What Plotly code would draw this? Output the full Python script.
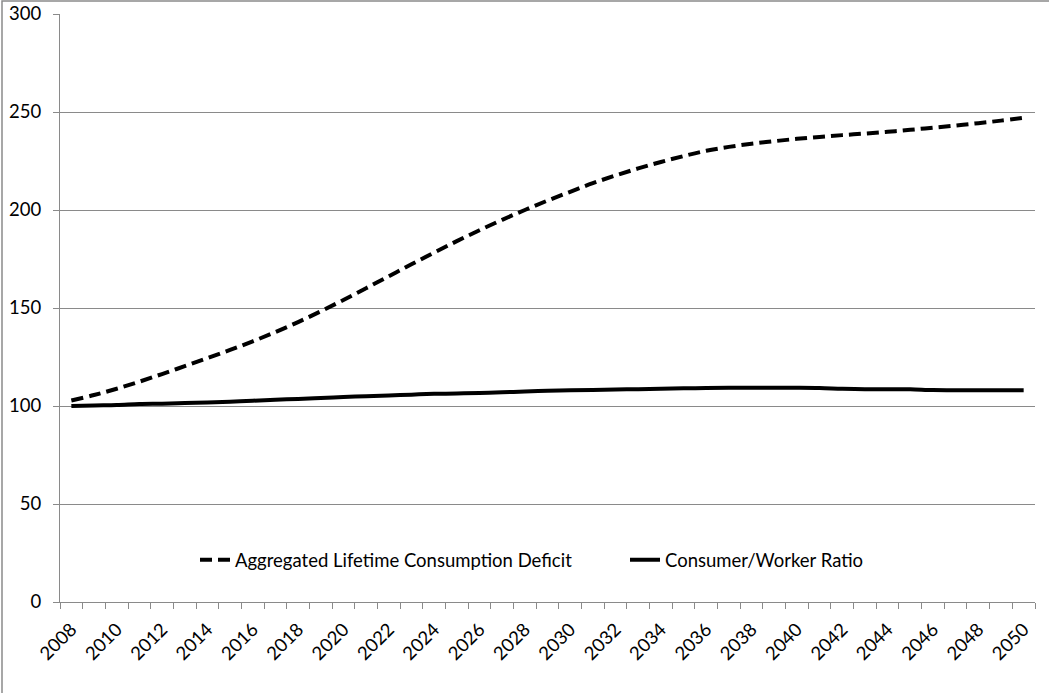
import plotly.graph_objects as go

years = list(range(2008, 2051))
deficit = [102.8, 105.6, 108.8, 112.4, 116.3, 120.3, 124.4, 128.6, 133.0, 137.7,
           142.8, 148.3, 154.1, 160.1, 166.2, 172.3, 178.3, 184.1, 189.7, 195.0,
           200.0, 204.8, 209.3, 213.7, 217.6, 221.2, 224.5, 227.5, 230.2, 232.2,
           233.8, 235.1, 236.3, 237.3, 238.2, 239.0, 239.9, 240.9, 242.0, 243.1,
           244.3, 245.6, 247.0]
ratio = [100, 100.3, 100.5, 101, 101.2, 101.5, 101.8, 102.2, 102.7, 103.2,
         103.6, 104.1, 104.6, 105, 105.4, 105.8, 106.2, 106.4, 106.6, 107,
         107.4, 107.8, 108, 108.2, 108.4, 108.6, 108.8, 109, 109.2, 109.3,
         109.3, 109.3, 109.3, 109.2, 108.8, 108.6, 108.6, 108.5, 108.1, 108,
         108, 108, 108]
label_years = [y for y in years if y % 2 == 0]
yticks = [0, 50, 100, 150, 200, 250, 300]

FONT = "Lato"
FS = 18.5
GRID = "#8a8a8a"

fig = go.Figure()
fig.add_trace(go.Scatter(x=years, y=deficit, mode="lines",
                         name="Aggregated Lifetime Consumption Deficit",
                         line=dict(color="black", width=4, dash="12px,6px", shape="spline")))
fig.add_trace(go.Scatter(x=years, y=ratio, mode="lines",
                         name="Consumer/Worker Ratio",
                         line=dict(color="black", width=4, shape="spline")))
# invisible trace to activate label axis
fig.add_trace(go.Scatter(x=[years[0]], y=[0], xaxis="x2", mode="markers",
                         marker=dict(opacity=0), showlegend=False, hoverinfo="skip"))

boundaries = [y - 0.5 for y in years] + [years[-1] + 0.5]
xr = [years[0] - 0.5, years[-1] + 0.5]

fig.update_layout(
    width=1049, height=693,
    margin=dict(l=60, r=14, t=14, b=91, autoexpand=False),
    paper_bgcolor="white", plot_bgcolor="white",
    font=dict(family=FONT, size=FS, color="black"),
    showlegend=True,
    legend=dict(orientation="h", x=(195 - 60) / 975, xanchor="left", y=0.071, yanchor="middle",
                entrywidth=385, bgcolor="rgba(0,0,0,0)", font=dict(size=FS, family=FONT)),
    xaxis=dict(range=xr, tickmode="array", tickvals=boundaries, showticklabels=False,
               ticks="outside", ticklen=6, tickcolor=GRID, showline=True, linecolor=GRID,
               linewidth=1, showgrid=False, zeroline=False, automargin=False),
    xaxis2=dict(range=xr, overlaying="x", anchor="y", side="bottom", tickmode="array",
                tickvals=label_years, ticktext=[str(y) for y in label_years],
                tickangle=-45, ticks="", showgrid=False, showline=False, zeroline=False,
                ticklabelstandoff=12, tickfont=dict(size=FS, family=FONT), automargin=False),
    yaxis=dict(range=[0, 300], tickmode="array", tickvals=yticks, ticks="outside",
               ticklen=6, tickcolor=GRID, showline=True, linecolor=GRID, linewidth=1,
               showgrid=True, gridcolor=GRID, gridwidth=1, zeroline=False,
               ticklabelstandoff=8, tickfont=dict(size=FS, family=FONT), automargin=False),
    shapes=[dict(type="rect", xref="paper", yref="paper",
                 x0=-58/975, x1=1 + 30/975, y0=-120/588, y1=1 + 13/588,
                 line=dict(color=GRID, width=1.5), fillcolor="rgba(0,0,0,0)", layer="below")],
)

fig.write_html("out.html")
